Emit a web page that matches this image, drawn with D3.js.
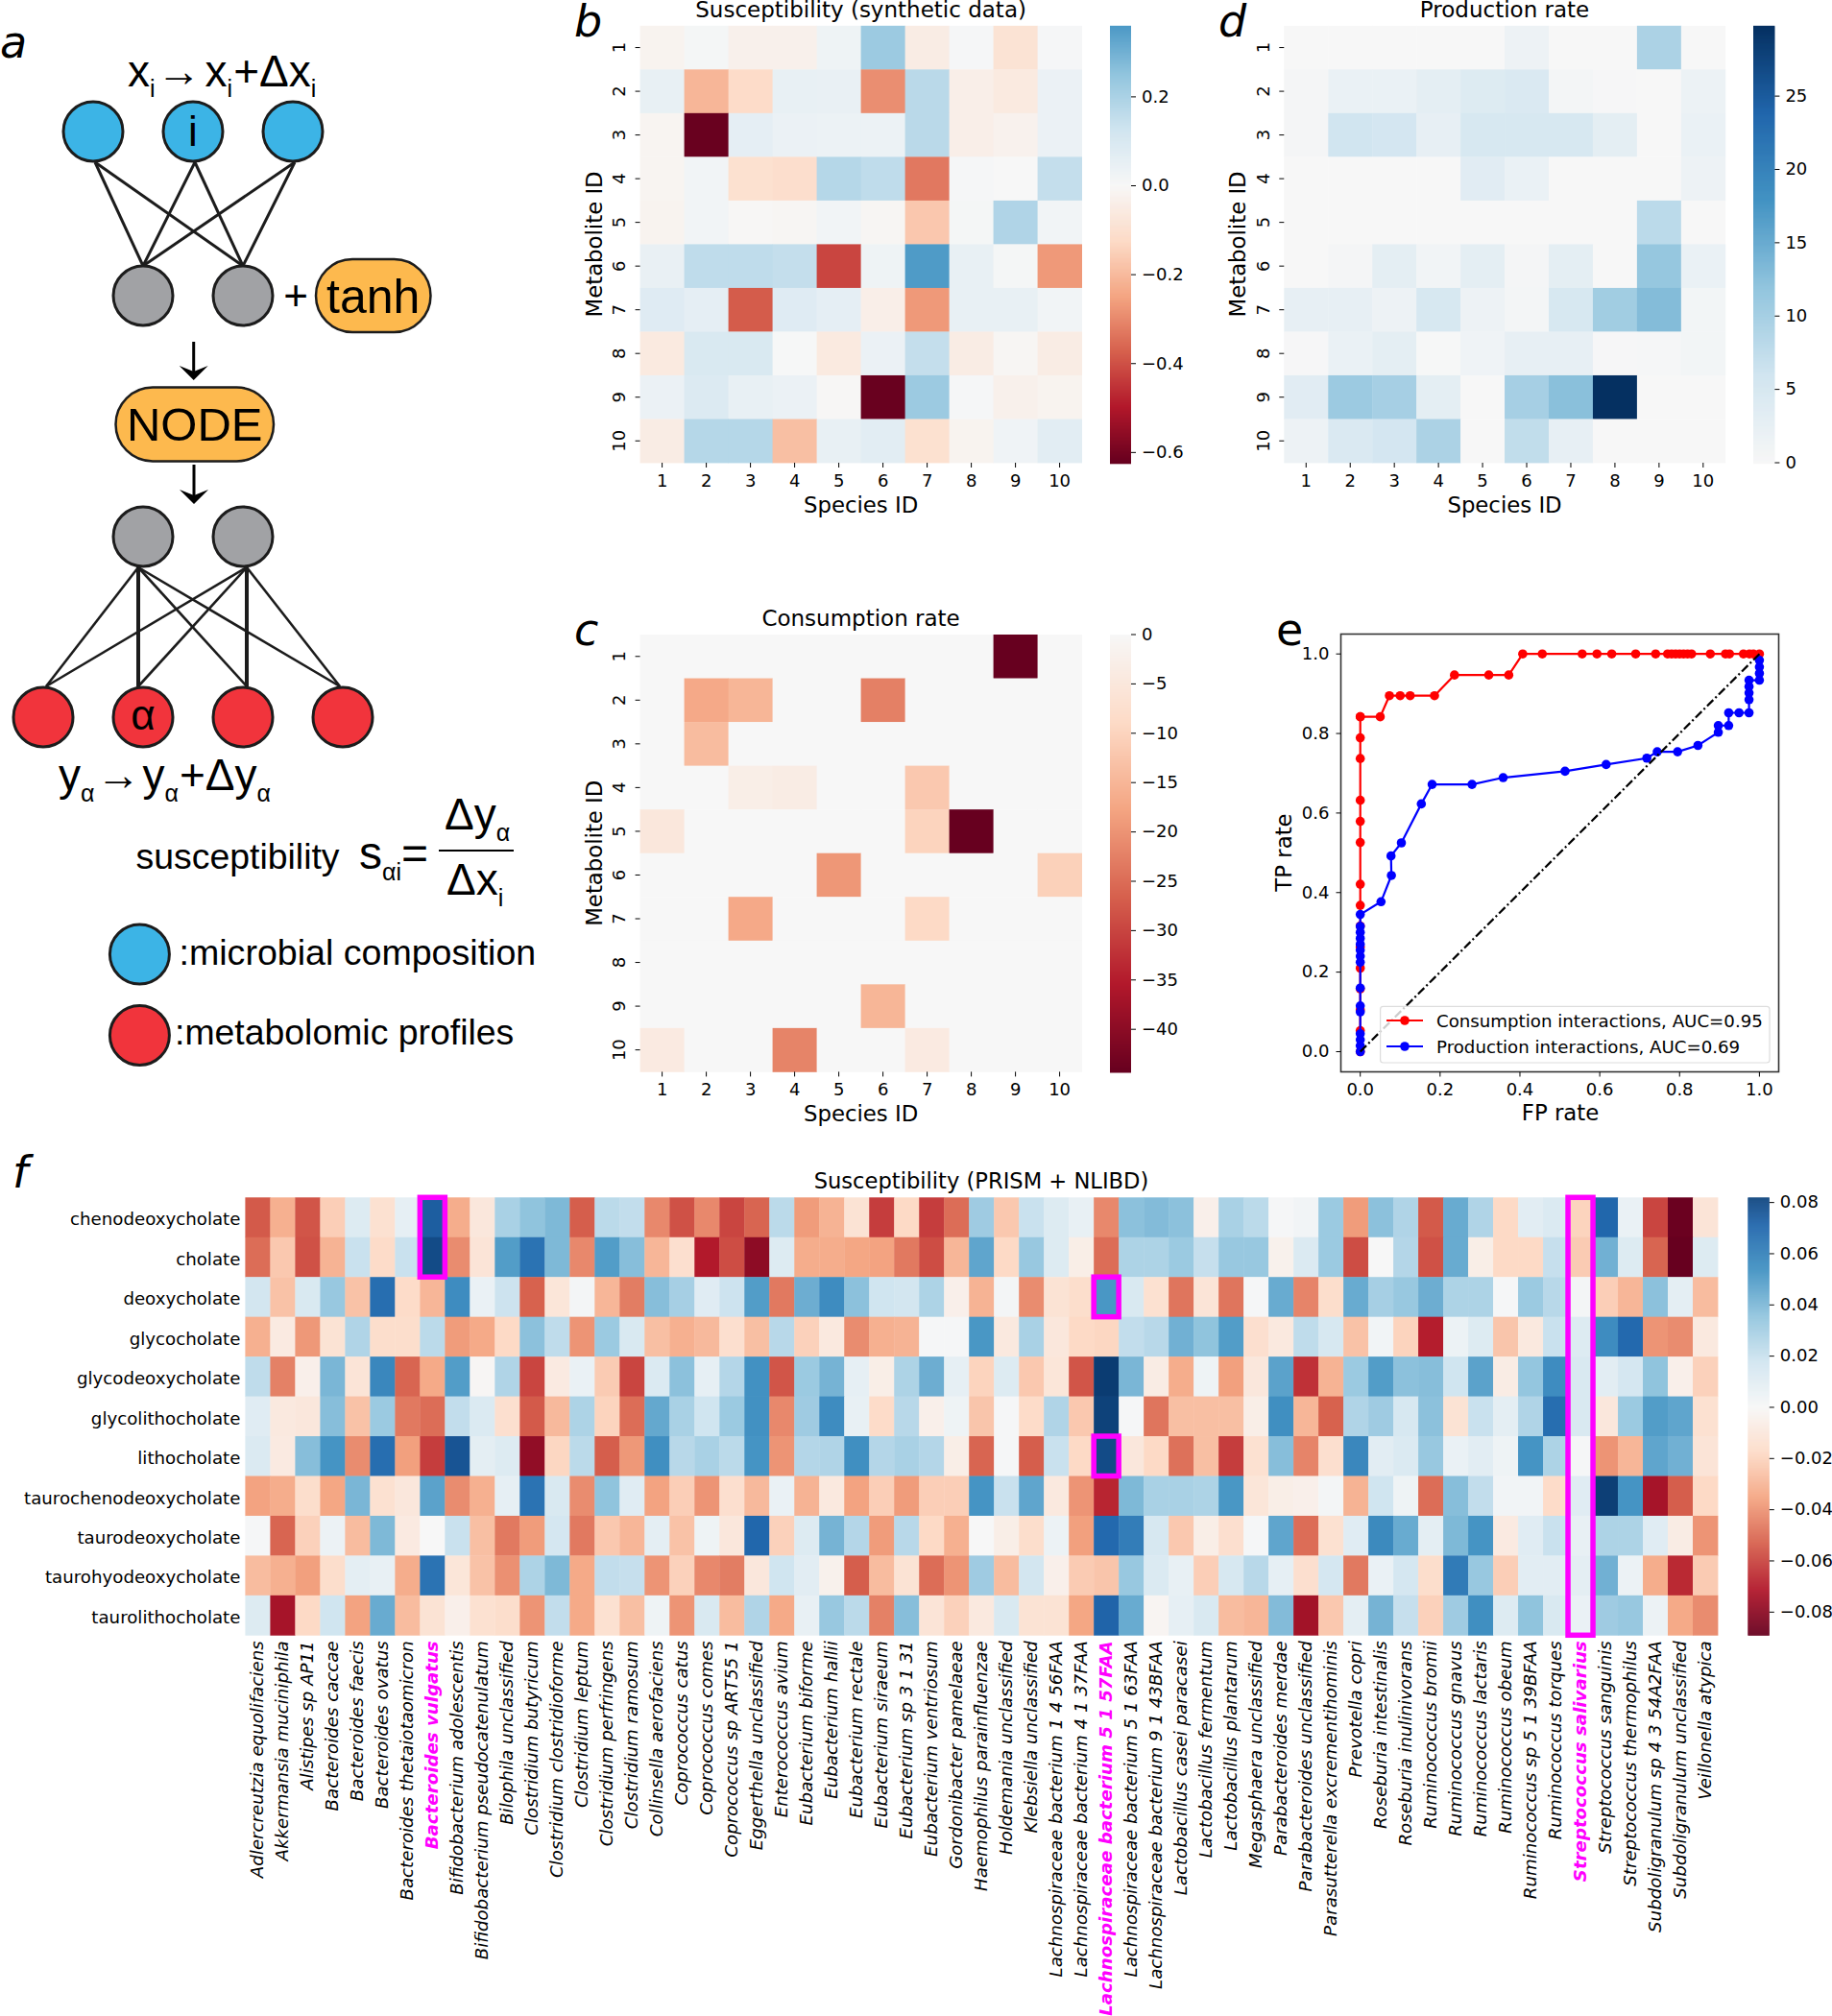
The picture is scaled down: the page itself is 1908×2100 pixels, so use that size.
<!DOCTYPE html>
<html>
<head>
<meta charset="utf-8">
<title>Susceptibility</title>
<script src="https://cdn.jsdelivr.net/npm/d3@7"></script>
<style>
  body { margin: 0; background: #fff; }
  svg { display: block; }
  text { font-family: "DejaVu Sans"; fill: #000; }
  .arial text, text.arial { font-family: "Liberation Sans"; }
</style>
</head>
<body>
<svg id="chart" width="1908" height="2100"></svg>
<script>
// ---- data ----
var idLabels = ['1', '2', '3', '4', '5', '6', '7', '8', '9', '10'];

var syntheticSusceptibility = [
  [-.02, .01, -.03, -.03, .03, .23, -.05, .005, -.09, .005],
  [.05, -.21, -.12, .05, .045, -.29, .17, -.04, -.06, .04],
  [-.015, -.62, .06, .04, .035, .035, .17, -.04, -.025, .04],
  [-.015, .02, -.1, -.11, .18, .16, -.33, .005, 0, .15],
  [-.02, .02, -.005, -.01, .02, -.01, -.17, .01, .19, .02],
  [.045, .16, .16, .15, -.42, .03, .355, .05, .01, -.27],
  [.08, .06, -.38, .08, .06, -.04, -.27, .05, .05, .02],
  [-.06, .1, .1, .003, -.06, .04, .15, -.05, -.01, -.05],
  [.04, .09, .05, .04, -.005, -.62, .23, .005, -.03, -.02],
  [-.05, .18, .18, -.19, .05, .07, -.1, -.02, .025, .07]
];

var consumptionRate = [
  [0, 0, 0, 0, 0, 0, 0, 0, -44.3, 0],
  [0, -17, -15, 0, 0, -22.5, 0, 0, 0, 0],
  [0, -14, 0, 0, 0, 0, 0, 0, 0, 0],
  [0, 0, -3, -3.5, 0, 0, -12, 0, 0, 0],
  [-5, 0, 0, 0, 0, 0, -10, -44.3, 0, 0],
  [0, 0, 0, 0, -19.5, 0, 0, 0, 0, -10.5],
  [0, 0, -17, 0, 0, 0, -9, 0, 0, 0],
  [0, 0, 0, 0, 0, 0, 0, 0, 0, 0],
  [0, 0, 0, 0, 0, -15, 0, 0, 0, 0],
  [-4, 0, 0, -22, 0, 0, -4, 0, 0, 0]
];

var productionRate = [
  [0, 0, 0, 0, 0, 1.5, 0, 0, 9.5, 0],
  [.5, 2, 2, 3, 4, 4.5, .6, .2, 0, 1.8],
  [.5, 6, 5.5, 2.5, 5, 5, 5, 3, 0, 2],
  [0, 0, 0, 0, 3.5, 2, 0, 0, 0, 1.5],
  [0, 0, 0, 0, 0, 0, 0, 0, 8, 0],
  [0, .5, 3, 1, 3, .5, 3, 0, 11.5, 2],
  [2.5, 2.5, 1.5, 5, 1.5, .6, 5, 10.5, 13, .8],
  [.2, 2, 3, .1, 1.2, 2.5, 2.5, .2, .3, .8],
  [3.5, 11, 10, 3, 0, 10, 12.5, 29.8, 0, 0],
  [1.5, 4.5, 5.5, 9.5, 0, 7.5, 2.5, 0, 0, 0]
];

var consumptionFpr = [0, 0, 0, 0, 0, 0, 0, 0, 0, 0, 0, 0, 0, 0, 0, 0, .05, .073, .1, .125, .186, .236, .322, .372, .407, .456, .556, .593, .63, .69, .74, .77, .78, .79, .8, .81, .82, .83, .877, .915, .925, .96, .975, .985, 1];
var consumptionTpr = [0, .053, .105, .158, .21, .263, .316, .368, .421, .526, .579, .632, .737, .789, .842, .842, .842, .895, .895, .895, .895, .947, .947, .947, 1, 1, 1, 1, 1, 1, 1, 1, 1, 1, 1, 1, 1, 1, 1, 1, 1, 1, 1, 1, 1];
var productionFpr = [0, 0, 0, 0, 0, 0, 0, 0, 0, 0, 0, 0, 0, 0, 0, .052, .078, .077, .103, .153, .18, .28, .358, .513, .616, .718, .744, .795, .846, .897, .897, .923, .923, .949, .974, .974, .974, .974, .974, 1, 1, 1, 1];
var productionTpr = [0, .015, .03, .045, .1, .115, .16, .225, .24, .255, .27, .285, .3, .315, .345, .377, .443, .492, .525, .623, .672, .672, .689, .705, .722, .738, .754, .754, .77, .803, .82, .82, .852, .852, .852, .885, .902, .918, .934, .934, .951, .967, .984];

var metabolites = ['chenodeoxycholate', 'cholate', 'deoxycholate', 'glycocholate', 'glycodeoxycholate', 'glycolithocholate', 'lithocholate', 'taurochenodeoxycholate', 'taurodeoxycholate', 'taurohyodeoxycholate', 'taurolithocholate'];

var species = ['Adlercreutzia equolifaciens', 'Akkermansia muciniphila', 'Alistipes sp AP11', 'Bacteroides caccae', 'Bacteroides faecis', 'Bacteroides ovatus', 'Bacteroides thetaiotaomicron', 'Bacteroides vulgatus', 'Bifidobacterium adolescentis', 'Bifidobacterium pseudocatenulatum', 'Bilophila unclassified', 'Clostridium butyricum', 'Clostridium clostridioforme', 'Clostridium leptum', 'Clostridium perfringens', 'Clostridium ramosum', 'Collinsella aerofaciens', 'Coprococcus catus', 'Coprococcus comes', 'Coprococcus sp ART55 1', 'Eggerthella unclassified', 'Enterococcus avium', 'Eubacterium biforme', 'Eubacterium hallii', 'Eubacterium rectale', 'Eubacterium siraeum', 'Eubacterium sp 3 1 31', 'Eubacterium ventriosum', 'Gordonibacter pamelaeae', 'Haemophilus parainfluenzae', 'Holdemania unclassified', 'Klebsiella unclassified', 'Lachnospiraceae bacterium 1 4 56FAA', 'Lachnospiraceae bacterium 4 1 37FAA', 'Lachnospiraceae bacterium 5 1 57FAA', 'Lachnospiraceae bacterium 5 1 63FAA', 'Lachnospiraceae bacterium 9 1 43BFAA', 'Lactobacillus casei paracasei', 'Lactobacillus fermentum', 'Lactobacillus plantarum', 'Megasphaera unclassified', 'Parabacteroides merdae', 'Parabacteroides unclassified', 'Parasutterella excrementihominis', 'Prevotella copri', 'Roseburia intestinalis', 'Roseburia inulinivorans', 'Ruminococcus bromii', 'Ruminococcus gnavus', 'Ruminococcus lactaris', 'Ruminococcus obeum', 'Ruminococcus sp 5 1 39BFAA', 'Ruminococcus torques', 'Streptococcus salivarius', 'Streptococcus sanguinis', 'Streptococcus thermophilus', 'Subdoligranulum sp 4 3 54A2FAA', 'Subdoligranulum unclassified', 'Veillonella atypica'];

var highlightedSpecies = ['Bacteroides vulgatus', 'Lachnospiraceae bacterium 5 1 57FAA', 'Streptococcus salivarius'];

var prismSusceptibility = [
  [-.055, -.032, -.056, -.022, .012, -.014, .008, .074, -.033, -.01, .029, .036, .04, -.054, .024, .022, -.043, -.057, -.043, -.06, -.052, .024, -.038, -.031, -.013, -.062, -.018, -.062, -.05, .032, -.024, .02, .012, .007, -.043, .037, .039, .037, -.005, .029, .024, .001, .003, .033, -.038, .037, .027, -.055, .045, .027, -.018, .01, .013, -.02, .071, .006, -.06, -.088, -.012],
  [-.05, -.024, -.057, -.031, .02, -.017, .02, .08, -.042, -.012, .05, .066, .04, -.043, .05, .038, -.03, -.015, -.071, -.058, -.08, .012, -.033, -.033, -.035, -.036, -.047, -.058, -.03, .047, -.018, .034, .012, -.006, -.05, .028, .028, .033, .021, .034, .034, -.004, .013, .033, -.058, 0, .026, -.057, .045, -.006, -.018, -.018, .021, -.023, .043, .012, -.052, -.089, .012],
  [.017, -.026, .014, .034, -.026, .068, -.017, -.03, .056, .006, .019, -.053, -.011, .002, -.03, -.046, .038, .03, .011, .019, .05, -.047, .044, .056, .037, .018, .017, .028, -.005, -.031, .002, -.042, -.013, -.016, .052, .014, -.014, -.048, -.012, -.048, .001, .045, -.044, -.016, .045, .03, .034, .044, .028, .028, .001, .033, .025, .002, -.022, -.03, .037, .009, -.028],
  [-.032, -.008, -.039, -.013, .027, -.016, -.016, .024, -.038, -.034, -.018, .037, .023, -.04, .033, .014, -.027, -.032, -.029, -.015, -.027, .025, -.021, -.009, -.042, -.032, -.031, .001, .001, .052, -.009, .029, -.01, -.018, -.019, .022, .025, .043, .036, .05, -.015, -.009, .023, .015, -.026, .003, -.02, -.07, .005, .012, -.025, -.009, .02, .012, .056, .07, -.04, -.042, -.009],
  [.023, -.045, -.005, .041, -.012, .058, -.052, -.034, .05, -.001, .027, -.06, -.008, .006, -.023, -.06, .013, .037, .008, .026, .054, -.056, .033, .042, .008, -.006, .028, .044, .008, -.02, .012, -.024, -.011, -.056, .085, .041, -.007, -.033, .004, -.037, -.01, .048, -.065, -.031, .033, .05, .037, .038, .018, .048, -.007, .035, .056, .014, .01, .016, .036, -.005, -.021],
  [.011, -.009, -.01, .038, -.026, .033, -.047, -.05, .022, .013, -.015, -.055, -.029, .028, -.02, -.05, .046, .029, .018, .033, .054, -.043, .032, .056, .007, -.017, .025, -.005, .004, -.025, .001, -.017, .027, -.024, .083, .001, -.048, -.027, -.027, -.027, -.006, .055, -.03, -.053, .027, .032, .015, .037, -.013, .02, .009, .027, .068, .014, -.01, .033, .05, .047, -.014],
  [.013, -.008, .038, .053, -.042, .068, -.037, -.062, .077, .009, .012, -.079, -.019, .024, -.054, -.039, .055, .025, .029, .024, .053, -.04, .026, .027, .055, .026, .029, .026, -.006, -.052, .001, -.054, .02, -.018, .08, -.01, -.018, -.049, -.027, -.062, -.014, .038, -.044, -.015, .058, .01, .013, .034, .006, .01, .004, .053, .028, .001, -.04, -.03, .047, .043, -.012],
  [-.036, -.033, -.016, -.035, .041, -.014, -.01, .048, -.042, -.032, .008, .066, .014, -.042, .036, .011, -.036, -.022, -.04, -.015, -.029, .006, -.031, -.009, -.036, -.022, -.038, -.022, -.022, .053, .02, .047, -.009, -.04, -.068, .04, .029, .029, .028, .052, -.011, -.006, -.005, .002, -.031, .018, .004, -.05, .038, .022, .003, .003, -.017, .011, .084, .053, -.074, -.054, -.018],
  [.001, -.052, -.021, .005, -.028, .04, -.008, 0, .02, -.027, -.047, -.038, .016, -.047, -.024, -.03, .009, -.026, .004, -.01, .071, -.021, .012, .042, .026, -.038, .025, -.018, -.032, 0, -.006, -.016, .005, -.037, .07, .062, .015, -.024, -.006, -.015, .001, .047, -.05, -.014, .011, .057, .045, .009, .04, .053, -.008, .011, .02, .007, .028, .028, .011, -.007, -.04],
  [-.028, -.032, -.037, -.016, .009, .007, -.033, .066, -.011, -.026, -.041, .028, .04, -.034, .022, .021, -.04, -.021, -.043, -.046, -.01, .018, .01, -.004, -.054, -.028, -.013, -.05, -.04, .032, -.028, .017, -.005, -.023, -.025, .034, .013, .007, -.022, .015, .025, .008, -.015, .016, -.047, .006, .016, -.016, .063, .034, -.022, .01, .01, .009, .043, .005, -.033, -.067, -.023],
  [.012, -.074, -.018, .018, -.036, .045, -.028, -.013, -.005, -.014, -.016, -.04, .022, -.034, -.014, -.027, .004, -.04, .014, -.028, .027, -.034, .007, .034, .024, -.045, .038, -.012, -.021, -.009, .014, -.013, -.013, -.035, .072, .045, -.002, .008, .014, -.028, -.03, .039, -.075, -.024, .009, .042, .021, -.021, .032, .055, .012, .036, .014, .006, .032, .034, .005, -.034, -.042]
];

// cells outlined in magenta: column and first/last row index
var highlightBoxes = [
  { col: 7, from: 0, to: 1 },
  { col: 34, from: 2, to: 2 },
  { col: 34, from: 6, to: 6 },
  { col: 53, from: 0, to: 10 }
];

var rocTicks = [0, .2, .4, .6, .8, 1];

// ---- shared helpers ----
var svg = d3.select('#chart');

// the RdBu map, centred on zero like a diverging heatmap
var rdbu = d3.scaleLinear()
  .domain(d3.range(11).map(function(i) { return -1 + i * 0.2; }))
  .range(d3.schemeRdBu[11]);

function label(x, y, str, size, opts) {
  opts = opts || {};
  var t = svg.append('text')
    .attr('x', x).attr('y', y)
    .attr('font-size', size)
    .attr('text-anchor', opts.anchor || 'middle')
    .text(str);
  if (opts.italic) t.attr('font-style', 'italic');
  if (opts.rotate) t.attr('transform', 'rotate(-90,' + x + ',' + y + ')');
  return t;
}

function styleAxis(g, size) {
  g.attr('font-family', 'DejaVu Sans').attr('font-size', size);
  g.select('.domain').remove();
}

function colorbar(box, domain, limit, ticks, fmt, size) {
  var y = d3.scaleLinear().domain(domain).range([box.y0, box.y1]);
  var g = svg.append('g');
  g.selectAll('rect')
    .data(d3.range(box.y0, box.y1, 1))
    .enter().append('rect')
    .attr('x', box.x0)
    .attr('y', function(d) { return d; })
    .attr('width', box.x1 - box.x0)
    .attr('height', 1.5)
    .attr('fill', function(d) { return rdbu(y.invert(d + 0.5) / limit); });
  var axis = svg.append('g')
    .attr('transform', 'translate(' + box.x1 + ',0)')
    .call(d3.axisRight(y).tickValues(ticks).tickFormat(fmt).tickSize(5).tickPadding(6).offset(0));
  styleAxis(axis, size);
}

function idHeatmap(box, values, limit, title) {
  var x = d3.scaleBand().domain(idLabels).range([box.x0, box.x1]);
  var y = d3.scaleBand().domain(idLabels).range([box.y0, box.y1]);
  var rows = svg.append('g').selectAll('g')
    .data(values).enter().append('g');
  rows.selectAll('rect')
    .data(function(row, i) { return row.map(function(v, j) { return { v: v, i: i, j: j }; }); })
    .enter().append('rect')
    .attr('x', function(d) { return x(idLabels[d.j]); })
    .attr('y', function(d) { return y(idLabels[d.i]); })
    .attr('width', x.bandwidth() + 0.4)
    .attr('height', y.bandwidth() + 0.4)
    .attr('fill', function(d) { return rdbu(d.v / limit); });

  var xAxis = svg.append('g')
    .attr('transform', 'translate(0,' + box.y1 + ')')
    .call(d3.axisBottom(x).tickSize(5).tickPadding(7).offset(0));
  styleAxis(xAxis, 18);

  var yAxis = svg.append('g')
    .attr('transform', 'translate(' + box.x0 + ',0)')
    .call(d3.axisLeft(y).tickSize(5).offset(0));
  styleAxis(yAxis, 18);
  yAxis.selectAll('text')
    .attr('x', 0).attr('y', -15.5).attr('dy', 0)
    .attr('text-anchor', 'middle')
    .attr('transform', 'rotate(-90)');

  var mid = (box.x0 + box.x1) / 2;
  label(mid, box.y0 - 9, title, 23);
  label(mid, box.y1 + 52, 'Species ID', 22.8);
  label(box.x0 - 40, (box.y0 + box.y1) / 2, 'Metabolite ID', 22.8, { rotate: true });
}

// ---- panel b, c, d ----
idHeatmap({ x0: 666.6, x1: 1126.6, y0: 26.8, y1: 482 }, syntheticSusceptibility, 0.623, 'Susceptibility (synthetic data)');
colorbar({ x0: 1156, x1: 1178, y0: 26.8, y1: 482 }, [0.36, -0.623], 0.623, [0.2, 0, -0.2, -0.4, -0.6], d3.format('.1f'), 18);

idHeatmap({ x0: 666.6, x1: 1126.6, y0: 661, y1: 1116.4 }, consumptionRate, 44.3, 'Consumption rate');
colorbar({ x0: 1156, x1: 1178, y0: 661, y1: 1116.4 }, [0, -44.3], 44.3, [0, -5, -10, -15, -20, -25, -30, -35, -40], d3.format('d'), 18);

idHeatmap({ x0: 1337.3, x1: 1796.8, y0: 26.8, y1: 482 }, productionRate, 29.8, 'Production rate');
colorbar({ x0: 1826, x1: 1848.4, y0: 26.8, y1: 482 }, [29.8, 0], 29.8, [25, 20, 15, 10, 5, 0], d3.format('d'), 18);

// ---- panel e: ROC curves ----
var rocX = d3.scaleLinear().domain([0, 1]).range([1416.7, 1832.4]);
var rocY = d3.scaleLinear().domain([0, 1]).range([1095.5, 681.2]);

svg.append('rect')
  .attr('x', 1396.5).attr('y', 660.5).attr('width', 456).attr('height', 456)
  .attr('fill', 'none').attr('stroke', '#333').attr('stroke-width', 1.6);

var rocXAxis = svg.append('g').attr('transform', 'translate(0,1116.5)')
  .call(d3.axisBottom(rocX).tickValues(rocTicks).tickFormat(d3.format('.1f')).tickSize(5).tickPadding(7).offset(0));
styleAxis(rocXAxis, 18);
var rocYAxis = svg.append('g').attr('transform', 'translate(1396.5,0)')
  .call(d3.axisLeft(rocY).tickValues(rocTicks).tickFormat(d3.format('.1f')).tickSize(5).tickPadding(7).offset(0));
styleAxis(rocYAxis, 18);

function rocCurve(fpr, tpr, color) {
  var pts = fpr.map(function(f, i) { return [f, tpr[i]]; });
  var line = d3.line().x(function(d) { return rocX(d[0]); }).y(function(d) { return rocY(d[1]); });
  svg.append('path').attr('d', line(pts)).attr('fill', 'none').attr('stroke', color).attr('stroke-width', 2.2);
  svg.append('g').selectAll('circle').data(pts).enter().append('circle')
    .attr('cx', function(d) { return rocX(d[0]); })
    .attr('cy', function(d) { return rocY(d[1]); })
    .attr('r', 4.8)
    .attr('fill', color);
}
rocCurve(consumptionFpr, consumptionTpr, '#ff0000');
rocCurve(productionFpr, productionTpr, '#0000ff');

svg.append('path')
  .attr('d', d3.line().x(function(d) { return rocX(d); }).y(function(d) { return rocY(d); })([0, 1]))
  .attr('stroke', '#000').attr('stroke-width', 2.2).attr('stroke-dasharray', '9 3 2 3').attr('fill', 'none');

svg.append('rect')
  .attr('x', 1437.6).attr('y', 1048.4).attr('width', 405.4).attr('height', 58.6).attr('rx', 3)
  .attr('fill', '#fff').attr('fill-opacity', 0.8).attr('stroke', '#ddd').attr('stroke-width', 1.2);

[['Consumption interactions, AUC=0.95', '#ff0000', 1063], ['Production interactions, AUC=0.69', '#0000ff', 1090]].forEach(function(e) {
  svg.append('line').attr('x1', 1444).attr('x2', 1482).attr('y1', e[2]).attr('y2', e[2]).attr('stroke', e[1]).attr('stroke-width', 2.2);
  svg.append('circle').attr('cx', 1463).attr('cy', e[2]).attr('r', 4.8).attr('fill', e[1]);
  label(1496, e[2] + 6.5, e[0], 18.2, { anchor: 'start' });
});

label(1625, 1167, 'FP rate', 22.8);
label(1345, 888, 'TP rate', 22.8, { rotate: true });

// ---- panel f: species by metabolite ----
var fX = d3.scaleBand().domain(species).range([255.4, 1789]);
var fY = d3.scaleBand().domain(metabolites).range([1247.3, 1703.3]);

var fRows = svg.append('g').selectAll('g').data(prismSusceptibility).enter().append('g');
fRows.selectAll('rect')
  .data(function(row, i) { return row.map(function(v, j) { return { v: v, m: metabolites[i], s: species[j] }; }); })
  .enter().append('rect')
  .attr('x', function(d) { return fX(d.s); })
  .attr('y', function(d) { return fY(d.m); })
  .attr('width', fX.bandwidth() + 0.4)
  .attr('height', fY.bandwidth() + 0.4)
  .attr('fill', function(d) { return rdbu(d.v / 0.089); });

svg.append('g').selectAll('rect').data(highlightBoxes).enter().append('rect')
  .attr('x', function(d) { return fX(species[d.col]); })
  .attr('y', function(d) { return fY(metabolites[d.from]); })
  .attr('width', fX.bandwidth())
  .attr('height', function(d) { return fY(metabolites[d.to]) + fY.bandwidth() - fY(metabolites[d.from]); })
  .attr('fill', 'none')
  .attr('stroke', '#ff00ff')
  .attr('stroke-width', 5.5);

var fYAxis = svg.append('g').attr('transform', 'translate(255.4,0)')
  .call(d3.axisLeft(fY).tickSize(0).tickPadding(5).offset(0));
styleAxis(fYAxis, 18.2);
fYAxis.selectAll('text').attr('dy', '0.46em');

var fXAxis = svg.append('g').attr('transform', 'translate(0,1703.3)')
  .call(d3.axisBottom(fX).tickSize(0).offset(0));
styleAxis(fXAxis, 18.2);
fXAxis.selectAll('text')
  .attr('x', -6).attr('y', 6).attr('dy', 0)
  .attr('text-anchor', 'end')
  .attr('transform', 'rotate(-90)')
  .attr('font-style', 'italic')
  .attr('font-weight', function(d) { return highlightedSpecies.indexOf(d) >= 0 ? 'bold' : null; })
  .style('fill', function(d) { return highlightedSpecies.indexOf(d) >= 0 ? '#ff00ff' : '#000'; });

label(1022, 1238, 'Susceptibility (PRISM + NLIBD)', 22.6);
colorbar({ x0: 1820.4, x1: 1842.8, y0: 1247.3, y1: 1703.3 }, [0.082, -0.089], 0.089, [.08, .06, .04, .02, 0, -.02, -.04, -.06, -.08], d3.format('.2f'), 18);

// ---- panel letters ----
[['a', 0, 60], ['b', 598, 37.5], ['c', 598, 672], ['d', 1269, 37.5], ['f', 13, 1237]].forEach(function(p) {
  label(p[1], p[2], p[0], 46, { anchor: 'start', italic: true });
});
label(1329, 672, 'e', 46, { anchor: 'start' });

// ---- panel a: network schematic ----
var schematic = svg.append('g').attr('class', 'arial');
var inkColor = '#1c1c1c', blueNode = '#3cb4e6', redNode = '#f1343c', grayNode = '#a1a2a5', orangeBox = '#fdb94e';

var topNodes = [[97, 137], [201, 137], [305, 137]];
var hiddenTop = [[149, 308], [253, 308]];
var hiddenBottom = [[149, 559], [253, 559]];
var outNodes = [[45, 747], [149, 747], [253, 747], [357, 747]];
var outWireOffsets = [3, -5, 4, -3];

// wires run between the node rims, not the centres
topNodes.forEach(function(a) {
  hiddenTop.forEach(function(b) {
    schematic.append('line').attr('x1', a[0] + 2).attr('y1', a[1] + 32).attr('x2', b[0]).attr('y2', b[1] - 31)
      .attr('stroke', inkColor).attr('stroke-width', 3);
  });
});
hiddenBottom.forEach(function(a, i) {
  outNodes.forEach(function(b, j) {
    schematic.append('line')
      .attr('x1', a[0] + (i ? 4 : -5)).attr('y1', a[1] + 32)
      .attr('x2', b[0] + outWireOffsets[j]).attr('y2', b[1] - 32)
      .attr('stroke', inkColor).attr('stroke-width', (Math.abs(a[0] - b[0]) < 10) ? 4 : 2.6);
  });
});

function nodes(list, fill) {
  schematic.selectAll(null).data(list).enter().append('circle')
    .attr('cx', function(d) { return d[0]; })
    .attr('cy', function(d) { return d[1]; })
    .attr('r', 31)
    .attr('fill', fill)
    .attr('stroke', inkColor)
    .attr('stroke-width', 3);
}
nodes(topNodes, blueNode);
nodes(hiddenTop, grayNode);
nodes(hiddenBottom, grayNode);
nodes(outNodes, redNode);
nodes([[145.4, 994]], blueNode);
nodes([[145.4, 1078.5]], redNode);

function pill(x0, x1, y0, y1, str, size) {
  schematic.append('rect')
    .attr('x', x0).attr('y', y0).attr('width', x1 - x0).attr('height', y1 - y0)
    .attr('rx', (y1 - y0) / 2)
    .attr('fill', orangeBox).attr('stroke', inkColor).attr('stroke-width', 2.5);
  schematic.append('text')
    .attr('x', (x0 + x1) / 2).attr('y', (y0 + y1) / 2 + size * 0.35)
    .attr('text-anchor', 'middle').attr('font-size', size).text(str);
}
pill(329, 448.5, 270, 346, 'tanh', 50);
pill(120.5, 285, 403.5, 480.5, 'NODE', 49);

function arrow(x, y0, y1) {
  schematic.append('line').attr('x1', x).attr('x2', x).attr('y1', y0).attr('y2', y1 - 8).attr('stroke', '#000').attr('stroke-width', 3);
  schematic.append('path')
    .attr('d', d3.line()([[x - 15, y1 - 15], [x, y1 - 9], [x + 15, y1 - 15], [x, y1]]) + 'Z')
    .attr('fill', '#000');
}
arrow(201.7, 356, 396);
arrow(202, 484, 525);

// text with subscripts: pieces are [string, isSub, extra gap before]
function formula(x, y, pieces, size, subSize) {
  var t = schematic.append('text').attr('x', x).attr('y', y).attr('font-size', size);
  var shift = size * 0.26;
  pieces.forEach(function(p, i) {
    var wasSub = i > 0 && pieces[i - 1][1];
    var dy = p[1] ? shift : (wasSub ? -shift : 0);
    t.append('tspan').attr('dy', dy).attr('dx', p[2] || 0).attr('font-size', p[1] ? subSize : size).text(p[0]);
  });
}

formula(133, 89.5, [['x'], ['i', true], ['→', false, 2], ['x', false, 4], ['i', true], ['+Δx', false, 1], ['i', true]], 46, 25);
formula(61, 823, [['y'], ['α', true], ['→', false, 2], ['y', false, 2], ['α', true], ['+Δy', false, 1], ['α', true]], 46, 25);
formula(141.6, 904.6, [['susceptibility']], 37.4, 25);
formula(374, 904.6, [['s'], ['αi', true], ['=']], 48, 25);
formula(463, 864, [['Δy'], ['α', true]], 46, 25);
formula(465, 932, [['Δx'], ['i', true]], 46, 25);
schematic.append('line').attr('x1', 457).attr('x2', 535).attr('y1', 886).attr('y2', 886).attr('stroke', '#000').attr('stroke-width', 2);

schematic.append('text').attr('x', 308).attr('y', 323).attr('text-anchor', 'middle').attr('font-size', 44).text('+');
schematic.append('text').attr('x', 201).attr('y', 152).attr('text-anchor', 'middle').attr('font-size', 44).text('i');
schematic.append('text').attr('x', 149).attr('y', 760).attr('text-anchor', 'middle').attr('font-size', 44).text('α');
schematic.append('text').attr('x', 186.5).attr('y', 1005).attr('font-size', 37.6).text(':microbial composition');
schematic.append('text').attr('x', 182).attr('y', 1088).attr('font-size', 37.4).text(':metabolomic profiles');
</script>
</body>
</html>
